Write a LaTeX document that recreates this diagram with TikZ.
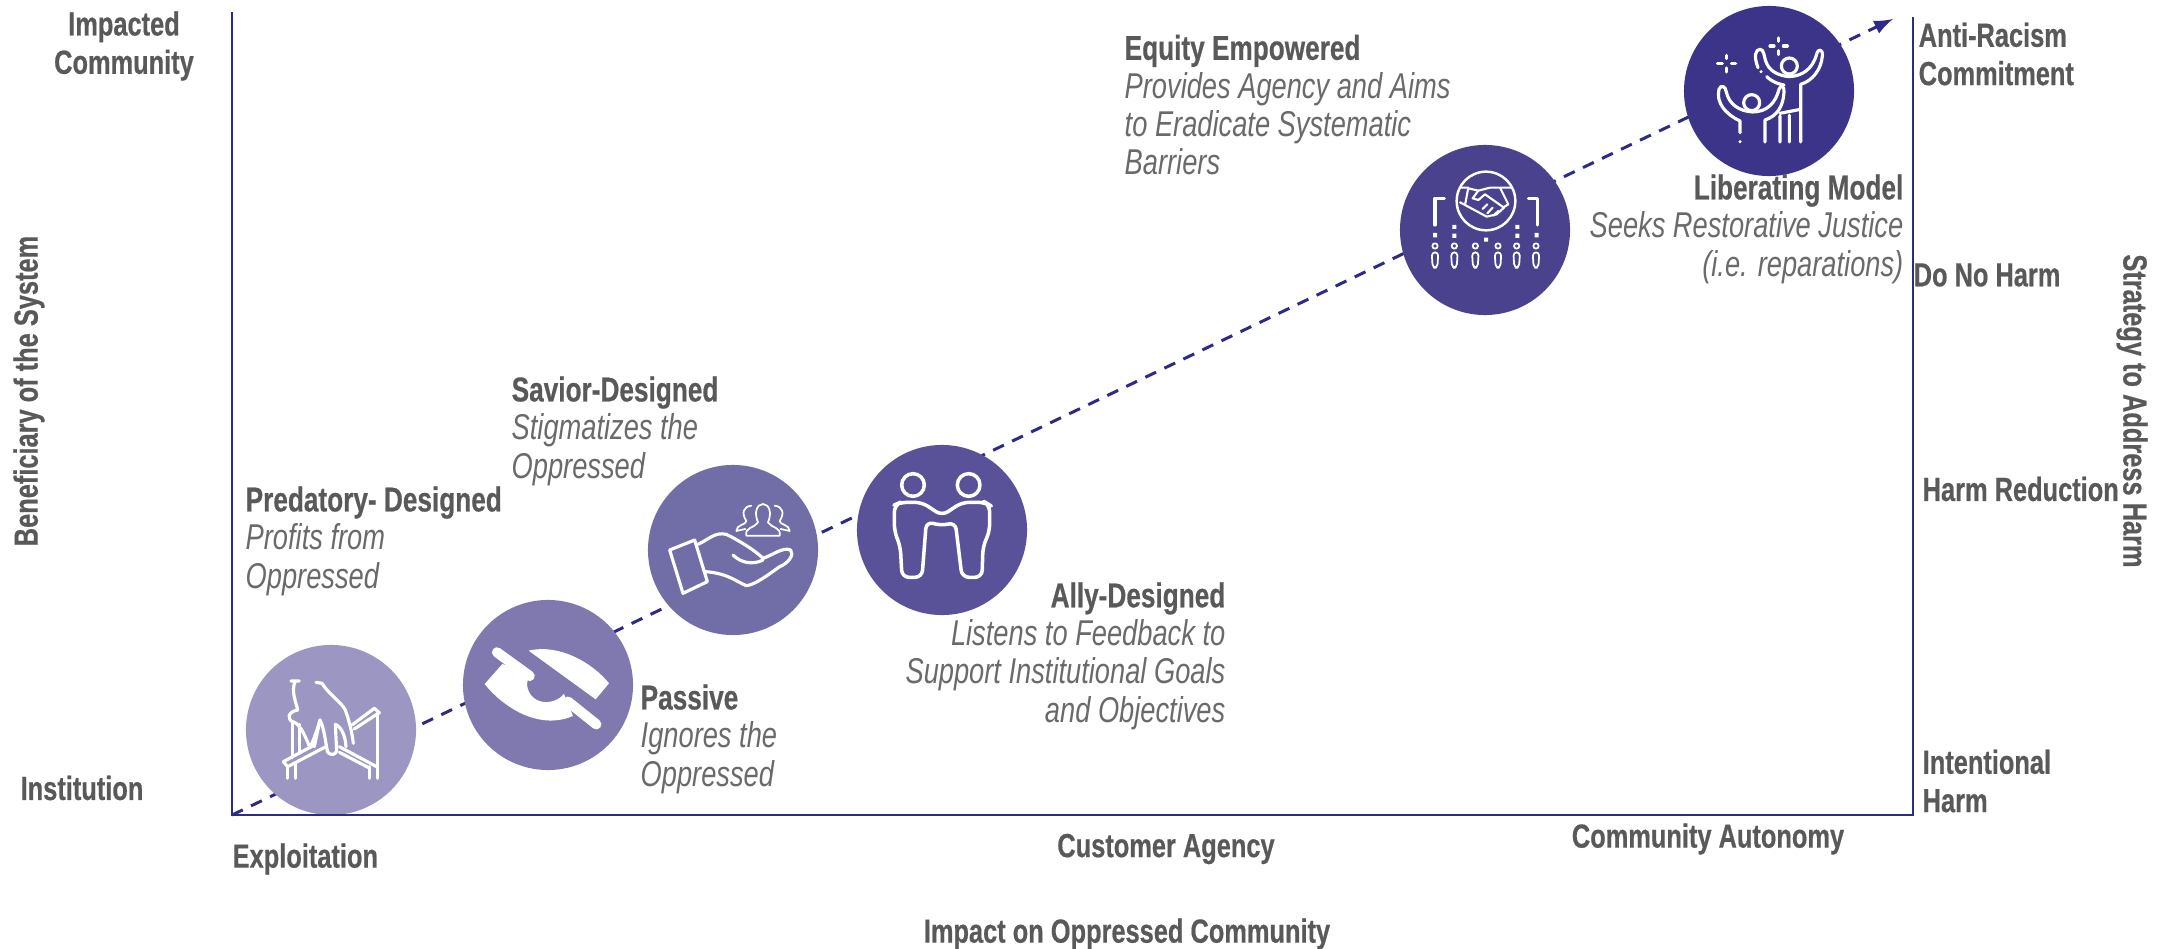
\documentclass[tikz,border=0pt]{standalone}
\usepackage{fontspec}
\setmainfont[FakeStretch=.76,BoldFeatures={FakeBold=.5}]{Liberation Sans}
\usepackage{tikz}
\usetikzlibrary{arrows}
\definecolor{axis-blue}{RGB}{46,42,135}
\definecolor{text-gray}{RGB}{89,89,89}
\definecolor{predatory-fill}{RGB}{155,150,194}
\definecolor{passive-fill}{RGB}{128,121,176}
\definecolor{savior-fill}{RGB}{113,109,167}
\definecolor{ally-fill}{RGB}{90,82,152}
\definecolor{equity-fill}{RGB}{75,66,142}
\definecolor{liberating-fill}{RGB}{59,52,137}
\tikzstyle{diagram}=[x=.01cm, y=-.01cm, font=\fontsize{9.8}{10.9}\selectfont, text=text-gray]
\tikzstyle{stage}=[circle, minimum size=1.7cm, inner sep=0]
\tikzstyle{axisline}=[axis-blue, line width=.75pt]
\tikzstyle{trend}=[axis-blue, line width=.85pt, dash pattern=on 3.4pt off 2.6pt, -latex]
\tikzstyle{caption}=[inner sep=0, align=left, anchor=west]
\tikzstyle{rightcaption}=[inner sep=0, align=right, anchor=east]
\tikzstyle{axislabel}=[inner sep=0, align=center, font=\fontsize{9.5}{10.9}\selectfont\bfseries]
\tikzstyle{iconline}=[white, line width=.9pt, line join=round, line cap=round]
\tikzstyle{thinline}=[white, line width=.5pt, line join=round, line cap=round]
\newcommand{\desc}{\fontsize{10.2}{10.9}\selectfont\mdseries\itshape\color{text-gray!90}}

\begin{document}
\begin{tikzpicture}[diagram]
	\useasboundingbox (0,0) rectangle (2161,949);
	\coordinate (origin) at (232,815);
	\coordinate (lefttop) at (232,12);
	\coordinate (rightcorner) at (1913,815);
	\coordinate (righttop) at (1913,17);
	\coordinate (arrowend) at (1893,19);
	\draw[trend] (origin) -- (arrowend);
	\node[stage, fill=predatory-fill] (predatory) at (331,730) {};
	\node[stage, fill=passive-fill] (passive) at (548,685) {};
	\node[stage, fill=savior-fill] (savior) at (733,550) {};
	\node[stage, fill=ally-fill] (ally) at (942,530) {};
	\node[stage, fill=equity-fill] (equity) at (1485,230) {};
	\node[stage, fill=liberating-fill] (liberating) at (1769,91) {};
	\draw[axisline] (lefttop) -- (origin) -- (rightcorner) -- (righttop);

	% predatory icon
	\begin{scope}[shift={(246,645)}, scale=.3333]
		\draw[iconline] (135,108) -- (160,108) (147,110) .. controls (135,140) and (150,170) .. (155,195);
		\draw[iconline] (210,112) -- (228,115) .. controls (250,150) and (285,170) .. (298,195) .. controls (310,230) and (318,260) .. (322,295);
		\draw[iconline] (155,195) .. controls (125,200) and (120,225) .. (145,232) .. controls (165,240) and (180,280) .. (192,308);
		\draw[iconline] (140,235) -- (140,338) (160,238) -- (160,325);
		\draw[iconline] (192,308) .. controls (205,280) and (215,250) .. (222,225) .. controls (235,250) and (238,290) .. (245,322) .. controls (255,332) and (268,330) .. (272,318) -- (268,238) .. controls (285,245) and (298,270) .. (300,305);
		\draw[iconline] (222,225) -- (205,305);
		\draw[iconline] (318,240) -- (385,190) -- (400,203) -- (325,252);
		\draw[iconline] (112,350) -- (205,300) (125,365) -- (240,305) (112,350) -- (125,365);
		\draw[iconline] (280,305) -- (392,365) (280,322) -- (368,368);
		\draw[iconline] (395,205) -- (395,400) (370,365) -- (370,400) (125,365) -- (125,400) (148,355) -- (148,400);
	\end{scope}

	% passive icon
	\begin{scope}[shift={(463,600)}, scale=.3333]
		\fill[white] (197,152) .. controls (290,130) and (390,190) .. (438,250) -- (398,298) -- cycle;
		\fill[white] (118,192) -- (65,252) .. controls (110,310) and (220,395) .. (330,348) -- (303,282) .. controls (270,320) and (200,315) .. (192,255) .. controls (192,240) and (200,225) .. (208,218) -- cycle;
		\draw[white, line width=2.9pt, line cap=round] (102,157) -- (200,228) (315,305) -- (400,373);
	\end{scope}

	% savior icon
	\begin{scope}[shift={(648,465)}, scale=.3333]
		\draw[iconline] (65,255) -- (140,225) -- (178,350) -- (105,385) -- cycle;
		\draw[iconline] (150,238) .. controls (180,225) and (200,200) .. (235,208) .. controls (270,225) and (320,255) .. (345,280) .. controls (375,270) and (405,245) .. (428,255) .. controls (440,270) and (420,295) .. (395,305) .. controls (360,330) and (320,360) .. (295,362) .. controls (265,350) and (240,325) .. (172,320);
		\draw[iconline] (255,270) .. controls (280,295) and (315,300) .. (345,285);
		\draw[thinline] (295,212) .. controls (290,185) and (320,190) .. (330,172) .. controls (318,145) and (325,118) .. (345,117) .. controls (365,118) and (372,145) .. (360,172) .. controls (370,190) and (400,185) .. (395,212) -- cycle;
		\draw[thinline] (292,192) -- (265,198) .. controls (265,178) and (295,180) .. (295,168) .. controls (280,145) and (285,125) .. (310,122);
		\draw[thinline] (398,192) -- (425,198) .. controls (425,178) and (395,180) .. (395,168) .. controls (410,145) and (405,125) .. (380,122);
	\end{scope}

	% ally icon
	\begin{scope}[shift={(857,445)}, scale=.3333]
		\draw[iconline, line width=1pt] (168,120) circle (34);
		\draw[iconline, line width=1pt] (335,120) circle (34);
		\draw[iconline, line width=1pt, rounded corners=2pt] (135,397) -- (130,305) -- (112,258) -- (112,180) -- (130,172) -- (195,172) -- (255,212) -- (315,172) -- (385,172) -- (398,180) -- (398,258) -- (378,305) -- (375,397) -- (315,397) -- (295,232) -- (255,242) -- (208,230) -- (195,397) -- cycle;
	\end{scope}

	% equity icon
	\begin{scope}[shift={(1400,145)}, scale=.3333]
		\draw[iconline, line width=.7pt] (258,168) circle (88);
		\draw[iconline] (105,240) -- (105,160) -- (133,160) (385,160) -- (412,160) -- (412,240);
		\fill[white] (99,264) rectangle (111,277) (157,240) rectangle (169,252) (157,266) rectangle (169,279) (252,278) rectangle (264,290) (346,240) rectangle (358,252) (346,266) rectangle (358,279) (404,264) rectangle (416,277);
		\draw[thinline, line width=.6pt] (180,128) -- (205,128) -- (195,180) -- (180,172) (205,130) -- (235,137) -- (270,128) -- (300,128) -- (325,178) -- (312,186) (335,128) -- (300,128);
		\draw[thinline, line width=.6pt] (235,137) -- (218,160) -- (235,165) -- (255,148) -- (312,188) -- (290,208) -- (260,215) -- (195,180);
		\draw[thinline, line width=.6pt] (262,178) -- (248,192) (278,188) -- (262,205) (295,198) -- (280,212);
		\draw[thinline, rounded corners=1pt] (105,303) circle (8) (98,368) -- (95,322) -- (115,322) -- (112,368) -- cycle;
		\draw[thinline, rounded corners=1pt] (163,303) circle (8) (156,368) -- (153,322) -- (173,322) -- (170,368) -- cycle;
		\draw[thinline, rounded corners=1pt] (226,303) circle (8) (219,368) -- (216,322) -- (236,322) -- (233,368) -- cycle;
		\draw[thinline, rounded corners=1pt] (294,303) circle (8) (287,368) -- (284,322) -- (304,322) -- (301,368) -- cycle;
		\draw[thinline, rounded corners=1pt] (350,303) circle (8) (343,368) -- (340,322) -- (360,322) -- (357,368) -- cycle;
		\draw[thinline, rounded corners=1pt] (408,303) circle (8) (401,368) -- (398,322) -- (418,322) -- (415,368) -- cycle;
	\end{scope}

	% liberating icon
	\begin{scope}[shift={(1684,6)}, scale=.3333]
		\draw[iconline] (316,180) circle (24) (203,290) circle (24);
		\draw[iconline] (222,185) .. controls (208,150) and (215,130) .. (228,130) .. controls (240,130) and (240,150) .. (245,165) .. controls (255,195) and (280,208) .. (315,212) .. controls (355,210) and (385,190) .. (398,145) .. controls (402,125) and (418,130) .. (415,150) .. controls (412,190) and (385,225) .. (350,235) -- (350,408);
		\draw[iconline] (248,212) .. controls (265,228) and (285,235) .. (300,237);
		\draw[iconline] (168,380) -- (168,345) .. controls (125,325) and (95,290) .. (105,250) .. controls (110,235) and (125,240) .. (127,258) .. controls (135,295) and (165,315) .. (205,318) .. controls (250,318) and (275,290) .. (285,250) .. controls (290,235) and (302,240) .. (300,258) .. controls (298,300) and (280,330) .. (243,342) -- (243,408);
		\draw[iconline] (288,330) -- (288,408) (316,328) -- (316,408) (288,322) -- (350,310);
		\fill[white] (168,407) circle (5) (231,197) circle (5);
		\draw[iconline] (128,148) -- (128,158) (128,186) -- (128,198) (100,172) -- (115,172) (142,172) -- (155,172);
		\draw[iconline] (284,96) -- (284,106) (284,134) -- (284,146) (258,120) -- (270,120) (298,120) -- (310,120);
	\end{scope}

	\node[caption] (predatorytext) at (245,541) {\bfseries Predatory- Designed\\\desc Profits from\\\desc Oppressed};
	\node[caption] (saviortext) at (511,431) {\bfseries Savior-Designed\\\desc Stigmatizes the\\\desc Oppressed};
	\node[caption] (passivetext) at (640,739) {\bfseries Passive\\\desc Ignores the\\\desc Oppressed};
	\node[rightcaption] (allytext) at (1226,656) {\bfseries Ally-Designed\\\desc Listens to Feedback to\\\desc Support Institutional Goals\\\desc and Objectives};
	\node[caption] (equitytext) at (1124,105) {\bfseries Equity Empowered\\\desc Provides Agency and Aims\\\desc to Eradicate Systematic\\\desc Barriers};
	\node[rightcaption] (liberatingtext) at (1904,229) {\bfseries Liberating Model\\\desc Seeks Restorative Justice\\\desc (i.e. reparations)};

	\node[axislabel] (impacted) at (124,46) {Impacted\\Community};
	\node[axislabel] (institution) at (82,788) {Institution};
	\node[axislabel, rotate=90] (beneficiary) at (29,391) {Beneficiary of the System};
	\node[axislabel, anchor=west] (exploitation) at (232,859) {Exploitation};
	\node[axislabel] (customer) at (1166,849) {Customer Agency};
	\node[axislabel] (autonomy) at (1708,839) {Community Autonomy};
	\node[axislabel] (impactaxis) at (1127,934) {Impact on Oppressed Community};
	\node[axislabel, align=left, anchor=west] (antiracism) at (1918,54) {Anti-Racism\\Commitment};
	\node[axislabel, anchor=west] (donoharm) at (1913,275) {Do No Harm};
	\node[axislabel, anchor=west] (reduction) at (1922,489) {Harm Reduction};
	\node[axislabel, align=left, anchor=west] (intentional) at (1922,781) {Intentional\\Harm};
	\node[axislabel, rotate=-90] (strategy) at (2132,411) {Strategy to Address Harm};
\end{tikzpicture}
\end{document}
